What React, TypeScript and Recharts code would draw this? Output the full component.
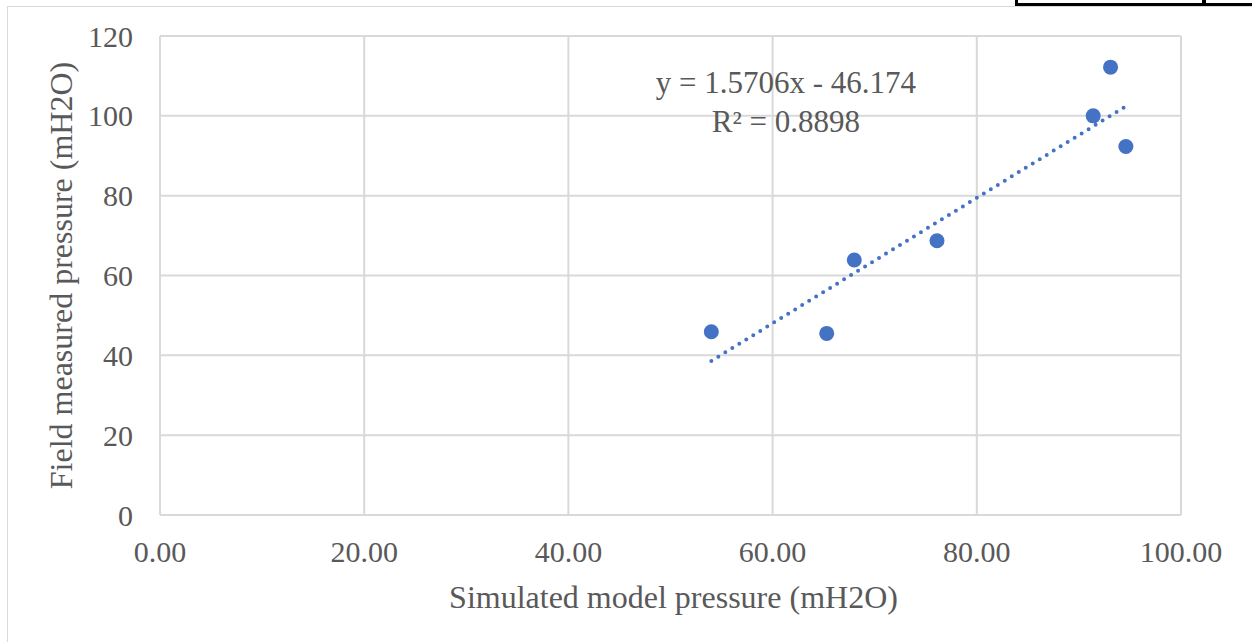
import React from "react";
import {
  ScatterChart,
  Scatter,
  XAxis,
  YAxis,
  CartesianGrid,
} from "recharts";

// simulated vs field measured pressure (mH2O)
const simulated = [54.0, 65.3, 68.0, 76.1, 91.4, 93.1, 94.6];
const measured = [45.9, 45.5, 63.9, 68.7, 100.0, 112.2, 92.3];

// linear trendline end points
const trendX = [54.0, 94.6];
const trendY = [38.6, 102.4];

const xTicks = [0, 20, 40, 60, 80, 100];
const yTicks = [0, 20, 40, 60, 80, 100, 120];

const equationLines = ["y = 1.5706x - 46.174", "R² = 0.8898"];
const equationAt = [{ x: 61.3, y: 105.8 }];

const points = simulated.map((x, i) => ({ x, y: measured[i] }));
const trend = trendX.map((x, i) => ({ x, y: trendY[i] }));

const BLUE = "#4472C4";
const GREY_TEXT = "#595959";
const GRID = "#d9d9d9";
const FONT = "'Liberation Serif', 'Times New Roman', serif";

const XTick = ({ x, y, payload }: any) => (
  <text x={x} y={y + 47} textAnchor="middle" fill={GREY_TEXT} fontSize={30} fontFamily={FONT}>
    {Number(payload.value).toFixed(2)}
  </text>
);

const YTick = ({ x, y, payload }: any) => (
  <text x={x - 27} y={y} dy={10.5} textAnchor="end" fill={GREY_TEXT} fontSize={30} fontFamily={FONT}>
    {payload.value}
  </text>
);

const Dot = ({ cx, cy }: any) => <circle cx={cx} cy={cy} r={7.5} fill={BLUE} />;

const Equation = ({ cx, cy }: any) => (
  <g>
    {equationLines.map((t, i) => (
      <text
        key={t}
        x={cx}
        y={cy + i * 39}
        textAnchor="middle"
        fill={GREY_TEXT}
        fontSize={31}
        fontFamily={FONT}
      >
        {t}
      </text>
    ))}
  </g>
);

export default function App() {
  return (
    <div
      style={{
        position: "absolute",
        left: 0,
        top: 0,
        width: 1252,
        height: 642,
        overflow: "hidden",
        background: "#fff",
      }}
    >
      {/* chart frame, runs off the page on the right and bottom */}
      <div
        style={{
          position: "absolute",
          left: 7,
          top: 6,
          width: 1400,
          height: 800,
          border: "1.5px solid #d9d9d9",
        }}
      />
      {/* bits of a table border peeking in at the top */}
      <div
        style={{
          position: "absolute",
          left: 1015,
          top: -20,
          width: 185,
          height: 20,
          border: "3px solid #000",
        }}
      />
      <div
        style={{
          position: "absolute",
          left: 1202,
          top: -20,
          width: 100,
          height: 20,
          border: "3px solid #000",
        }}
      />
      <div style={{ position: "absolute", left: 0, top: 0 }}>
        <ScatterChart
          width={1252}
          height={642}
          margin={{ top: 36, right: 71, bottom: 47, left: 60 }}
        >
          <CartesianGrid stroke={GRID} strokeWidth={2} />
          <XAxis
            type="number"
            dataKey="x"
            domain={[0, 100]}
            ticks={xTicks}
            height={80}
            axisLine={{ stroke: GRID, strokeWidth: 2 }}
            tickLine={false}
            tickSize={0}
            tickMargin={0}
            tick={<XTick />}
            label={({ viewBox }: any) => (
              <text
                x={viewBox.x + viewBox.width / 2 + 3}
                y={viewBox.y + 93}
                textAnchor="middle"
                fill={GREY_TEXT}
                fontSize={32}
                fontFamily={FONT}
              >
                Simulated model pressure (mH2O)
              </text>
            )}
          />
          <YAxis
            type="number"
            dataKey="y"
            domain={[0, 120]}
            ticks={yTicks}
            width={100}
            axisLine={{ stroke: GRID, strokeWidth: 2 }}
            tickLine={false}
            tickSize={0}
            tickMargin={0}
            tick={<YTick />}
            label={({ viewBox }: any) => {
              const cx = 72;
              const cy = viewBox.y + viewBox.height / 2;
              return (
                <text
                  x={cx}
                  y={cy}
                  transform={`rotate(-90, ${cx}, ${cy})`}
                  textAnchor="middle"
                  fill={GREY_TEXT}
                  fontSize={32}
                  fontFamily={FONT}
                >
                  Field measured pressure (mH2O)
                </text>
              );
            }}
          />
          <Scatter
            data={trend}
            line={{
              stroke: BLUE,
              strokeWidth: 4,
              strokeDasharray: "0 8.2",
              strokeLinecap: "round",
            }}
            lineType="joint"
            shape={() => <g />}
            isAnimationActive={false}
          />
          <Scatter data={points} shape={<Dot />} isAnimationActive={false} />
          <Scatter data={equationAt} shape={<Equation />} isAnimationActive={false} />
        </ScatterChart>
      </div>
    </div>
  );
}
